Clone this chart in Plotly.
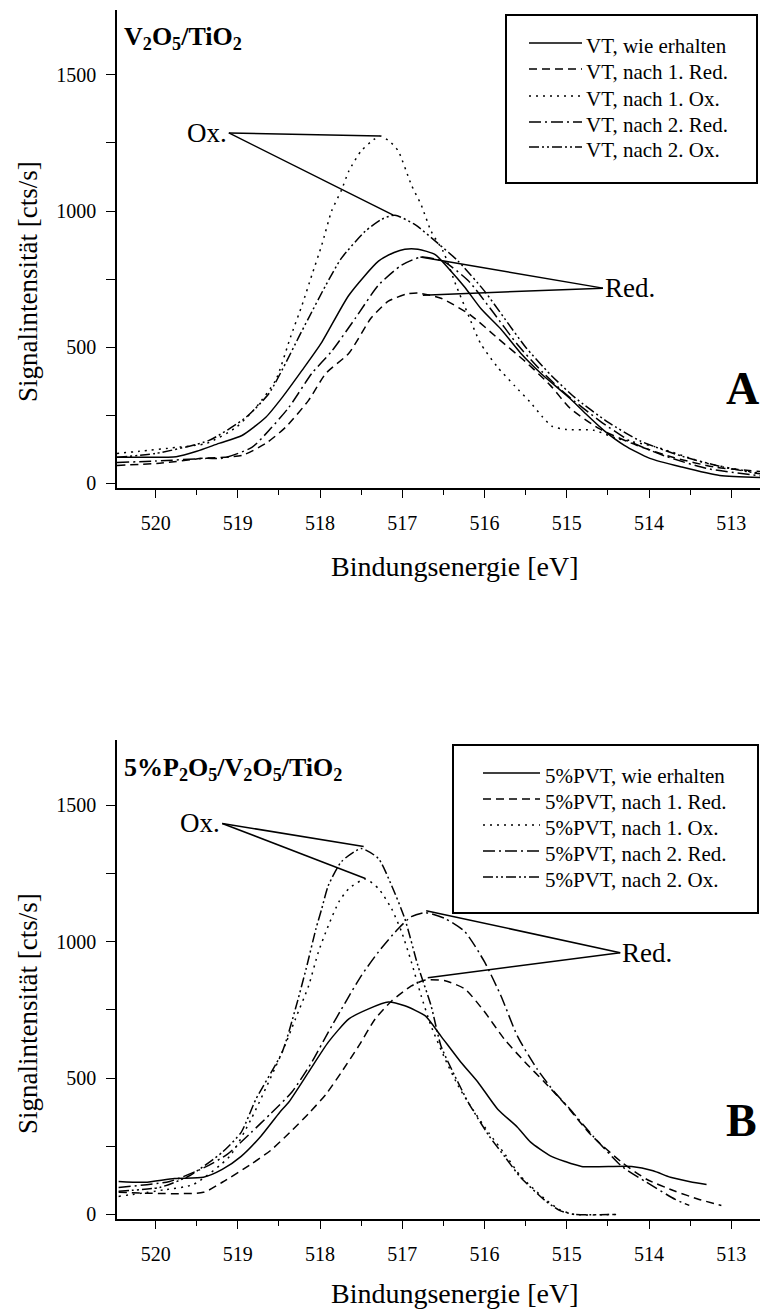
import plotly.graph_objects as go

# ---------------- data: V 2p3/2 XPS signal, panel A (V2O5/TiO2) ----------------
a_labels = ["VT, wie erhalten", "VT, nach 1. Red.", "VT, nach 1. Ox.",
            "VT, nach 2. Red.", "VT, nach 2. Ox."]

a_e_wie = [520.47, 520.2, 519.75, 519.5, 519.23, 518.95, 518.66, 518.46, 518.22, 517.98,
           517.65, 517.29, 517.1, 516.97, 516.81, 516.6, 516.44, 516.24, 516.04, 515.8,
           515.56, 515.3, 514.96, 514.75, 514.55, 514.3, 513.99, 513.6, 513.14, 512.65]
a_i_wie = [96, 96, 98, 118, 147, 176, 243, 316, 415, 518,
           691, 816, 848, 860, 860, 840, 790, 720, 640, 566,
           478, 400, 312, 250, 195, 140, 92, 60, 29, 22]

a_e_red1 = [520.47, 519.95, 519.43, 518.95, 518.66, 518.42, 518.14, 517.93, 517.65, 517.38,
            517.17, 516.95, 516.81, 516.53, 516.17, 515.84, 515.51, 515.2, 514.96, 514.6,
            514.15, 513.7, 513.2, 512.65]
a_i_red1 = [66, 74, 92, 103, 147, 206, 305, 404, 478, 607,
            669, 695, 699, 680, 618, 533, 449, 360, 276, 200,
            140, 95, 60, 44]

a_e_ox1 = [520.47, 520.2, 519.75, 519.38, 519.02, 518.78, 518.54, 518.36, 518.22, 518.1,
           517.98, 517.86, 517.74, 517.65, 517.5, 517.35, 517.27, 517.15, 517.05, 516.89,
           516.77, 516.65, 516.5, 516.35, 516.2, 516.05, 515.85, 515.63, 515.45, 515.3,
           515.18, 515.0, 514.67, 514.39, 513.94, 513.3, 512.65]
a_i_ox1 = [110, 118, 132, 147, 206, 279, 379, 537, 654, 765,
           875, 1000, 1077, 1147, 1221, 1262, 1276, 1255, 1221, 1096,
           1022, 926, 850, 730, 620, 515, 430, 357, 300, 246,
           210, 198, 195, 165, 136, 74, 37]

a_e_red2 = [520.47, 520.0, 519.38, 519.19, 518.83, 518.62, 518.38, 518.1, 517.86, 517.57,
            517.29, 517.01, 516.77, 516.5, 516.2, 515.9, 515.6, 515.3, 515.0, 514.6,
            514.2, 513.8, 513.3, 512.65]
a_i_red2 = [77, 82, 92, 92, 132, 195, 279, 404, 485, 607,
            728, 801, 831, 815, 745, 630, 510, 410, 325, 230,
            150, 100, 55, 28]

a_e_ox2 = [520.47, 520.0, 519.35, 518.9, 518.62, 518.42, 518.26, 518.14, 517.93, 517.74,
           517.45, 517.25, 517.09, 516.84, 516.57, 516.32, 516.0, 515.76, 515.5, 515.2,
           514.9, 514.5, 514.1, 513.6, 513.1, 512.65]
a_i_ox2 = [96, 110, 158, 243, 331, 441, 537, 607, 728, 827,
           926, 970, 985, 949, 882, 816, 706, 607, 500, 400,
           315, 225, 155, 100, 60, 35]

# ---------------- data: panel B (5%P2O5/V2O5/TiO2) ----------------
b_labels = ["5%PVT, wie erhalten", "5%PVT, nach 1. Red.", "5%PVT, nach 1. Ox.",
            "5%PVT, nach 2. Red.", "5%PVT, nach 2. Ox."]

b_e_wie = [520.45, 520.13, 519.77, 519.42, 519.19, 518.96, 518.72, 518.49, 518.38, 518.14,
           517.9, 517.65, 517.41, 517.17, 516.97, 516.72, 516.53, 516.29, 516.08, 515.84,
           515.6, 515.44, 515.2, 515.03, 514.82, 514.21, 513.95, 513.74, 513.5, 513.3]
b_i_wie = [121, 118, 132, 136, 165, 213, 287, 375, 412, 522,
           632, 717, 754, 779, 765, 728, 654, 559, 485, 386,
           320, 265, 215, 195, 176, 176, 160, 136, 120, 110]

b_e_red1 = [520.45, 519.42, 519.19, 518.84, 518.6, 518.37, 518.14, 517.93, 517.74, 517.53,
            517.33, 517.13, 516.89, 516.72, 516.48, 516.24, 516.0, 515.76, 515.51, 515.27,
            515.0, 514.7, 514.33, 514.03, 513.68, 513.39, 513.12]
b_i_red1 = [81, 81, 118, 184, 235, 300, 370, 440, 522, 618,
            717, 783, 838, 860, 857, 827, 743, 643, 559, 485,
            397, 290, 191, 129, 85, 55, 33]

b_e_ox1 = [520.45, 519.9, 519.54, 519.1, 518.84, 518.46, 518.3, 518.14, 518.02, 517.9,
           517.77, 517.65, 517.45, 517.29, 517.13, 517.01, 516.89, 516.77, 516.65, 516.48,
           516.32, 516.17, 515.95, 515.75, 515.56, 515.26, 515.09, 514.91, 514.4]
b_i_ox1 = [66, 90, 110, 213, 349, 596, 717, 838, 963, 1059,
           1147, 1195, 1230, 1195, 1121, 1037, 926, 801, 691, 570,
           471, 397, 300, 220, 140, 55, 18, 0, 0]

b_e_red2 = [520.45, 519.83, 519.42, 519.13, 518.84, 518.6, 518.34, 518.1, 517.9, 517.69,
            517.5, 517.29, 517.05, 516.89, 516.72, 516.48, 516.24, 516.0, 515.8, 515.6,
            515.36, 515.15, 514.96, 514.68, 514.33, 514.03, 513.68, 513.51]
b_i_red2 = [99, 121, 170, 220, 300, 370, 450, 559, 669, 779,
            875, 963, 1048, 1092, 1107, 1085, 1037, 926, 801, 654,
            533, 449, 386, 287, 176, 118, 55, 33]

b_e_ox2 = [520.45, 519.95, 519.6, 519.19, 518.96, 518.78, 518.46, 518.3, 518.17, 518.05,
           517.98, 517.9, 517.74, 517.5, 517.29, 517.13, 516.97, 516.81, 516.65, 516.53,
           516.36, 516.2, 515.95, 515.75, 515.56, 515.26, 515.09, 514.91, 514.4]
b_i_ox2 = [85, 99, 140, 228, 301, 423, 596, 754, 901, 1048,
           1121, 1206, 1294, 1342, 1305, 1206, 1085, 912, 765, 618,
           507, 412, 290, 210, 135, 50, 15, 0, 0]

# callout labels: text anchor point and the peaks they point at (eV, cts/s)
a_ox_label = (519.11, 1287)
a_ox_peaks = [(517.27, 1276), (517.11, 985)]
a_red_label = (514.56, 717)
a_red_peaks = [(516.78, 831), (516.75, 691)]
b_ox_label = (519.19, 1434)
b_ox_peaks = [(517.47, 1349), (517.45, 1232)]
b_red_label = (514.35, 960)
b_red_peaks = [(516.71, 1114), (516.69, 868)]

x_ticks = [520, 519, 518, 517, 516, 515, 514, 513]
y_ticks = [0, 250, 500, 750, 1000, 1250, 1500]
y_ticktext = ["0", "", "500", "", "1000", "", "1500"]

# ---------------- styling ----------------
W, H = 760, 1309
L = 117
FONT = "Liberation Serif"
DASHES = ["solid", "8px,5px", "2px,5px", "12px,4px,2px,4px", "10px,3px,2px,3px,2px,3px"]
LW = 1.5


def px_x(p):
    return (p - L) / (W - L)


def px_y(p):
    return 1 - p / H


fig = go.Figure()

panels = [
    ("x", "y", [(a_e_wie, a_i_wie), (a_e_red1, a_i_red1), (a_e_ox1, a_i_ox1),
                (a_e_red2, a_i_red2), (a_e_ox2, a_i_ox2)], a_labels),
    ("x2", "y2", [(b_e_wie, b_i_wie), (b_e_red1, b_i_red1), (b_e_ox1, b_i_ox1),
                  (b_e_red2, b_i_red2), (b_e_ox2, b_i_ox2)], b_labels),
]
for xa, ya, series, labels in panels:
    for (e, i), name, dash in zip(series, labels, DASHES):
        fig.add_trace(go.Scatter(x=e, y=i, mode="lines", name=name, xaxis=xa, yaxis=ya,
                                 line=dict(color="black", width=LW, dash=dash,
                                           shape="spline", smoothing=0.6),
                                 showlegend=False, hoverinfo="skip"))

x_range = [520.47, 512.65]
y_range = [-15, 1740]
dom_a = [px_y(487.5), px_y(9.5)]
dom_b = [px_y(1218.5), px_y(740)]


def bottom_axis(anchor):
    return dict(range=x_range, anchor=anchor, domain=[0, 1], showline=True, linecolor="black",
                linewidth=1.6, ticks="outside", ticklen=9, tickwidth=1.4, tickcolor="black",
                tickvals=x_ticks, tickfont=dict(family=FONT, size=20, color="black"),
                ticklabelstandoff=8, showgrid=False, zeroline=False,
                minor=dict(dtick=0.5, tick0=0, ticks="outside", ticklen=6, tickwidth=1.4,
                           tickcolor="black", showgrid=False))


def top_axis(over, anchor):
    return dict(range=x_range, overlaying=over, anchor=anchor, side="top", showline=True,
                linecolor="black", linewidth=1.6, ticks="outside", ticklen=4, tickwidth=1.2,
                tickcolor="black", tickvals=x_ticks, showticklabels=False, showgrid=False,
                zeroline=False,
                minor=dict(dtick=0.5, tick0=0, ticks="outside", ticklen=4, tickwidth=1.2,
                           tickcolor="black", showgrid=False))


def left_axis(anchor, dom):
    return dict(range=y_range, anchor=anchor, domain=dom, showline=True, linecolor="black",
                linewidth=1.6, ticks="outside", ticklen=9, tickwidth=1.4, tickcolor="black",
                tickvals=y_ticks, ticktext=y_ticktext,
                tickfont=dict(family=FONT, size=20, color="black"), ticklabelstandoff=6,
                showgrid=False, zeroline=False)


fig.update_layout(
    width=W, height=H,
    margin=dict(l=L, r=0, t=0, b=0, autoexpand=False),
    paper_bgcolor="white", plot_bgcolor="white",
    font=dict(family=FONT, color="black", size=20),
    showlegend=False,
    xaxis=bottom_axis("y"), yaxis=left_axis("x", dom_a),
    xaxis2=bottom_axis("y2"), yaxis2=left_axis("x2", dom_b),
    xaxis3=top_axis("x", "y"), xaxis4=top_axis("x2", "y2"),
)

shapes = []
annotations = []

# callout lines and labels
for xr, yr, ox_lab, ox_pk, red_lab, red_pk in [
        ("x", "y", a_ox_label, a_ox_peaks, a_red_label, a_red_peaks),
        ("x2", "y2", b_ox_label, b_ox_peaks, b_red_label, b_red_peaks)]:
    for lab, peaks in [(ox_lab, ox_pk), (red_lab, red_pk)]:
        for px_, py_ in peaks:
            shapes.append(dict(type="line", xref=xr, yref=yr, x0=lab[0], y0=lab[1],
                               x1=px_, y1=py_, line=dict(color="black", width=1.5)))
    annotations.append(dict(xref=xr, yref=yr, x=ox_lab[0], y=ox_lab[1], text="Ox.",
                            showarrow=False, xanchor="right", yanchor="middle",
                            font=dict(family=FONT, size=27, color="black")))
    annotations.append(dict(xref=xr, yref=yr, x=red_lab[0], y=red_lab[1], text="Red.",
                            showarrow=False, xanchor="left", yanchor="middle",
                            font=dict(family=FONT, size=27, color="black")))

# hand-drawn legend boxes
legend_boxes = [
    (a_labels, (506, 15, 757, 183), [43, 69, 96, 122, 147], (529, 582), 584),
    (b_labels, (453, 745, 758, 913), [773, 799, 825, 851, 877], (483, 540), 543),
]
for labels, (bx0, by0, bx1, by1), rows, (lx0, lx1), tx in legend_boxes:
    shapes.append(dict(type="rect", xref="paper", yref="paper",
                       x0=px_x(bx0), y0=px_y(by1), x1=px_x(bx1), y1=px_y(by0),
                       line=dict(color="black", width=2), fillcolor="white", layer="above"))
    for name, dash, ry in zip(labels, DASHES, rows):
        shapes.append(dict(type="line", xref="paper", yref="paper",
                           x0=px_x(lx0), x1=px_x(lx1), y0=px_y(ry), y1=px_y(ry),
                           line=dict(color="black", width=LW, dash=dash), layer="above"))
        annotations.append(dict(xref="paper", yref="paper", x=px_x(tx), y=px_y(ry + 3),
                                text=name, showarrow=False, xanchor="left",
                                yanchor="middle",
                                font=dict(family=FONT, size=21, color="black")))

# panel titles, panel letters and axis titles
for title, tx, ty in [("<b>V<sub>2</sub>O<sub>5</sub>/TiO<sub>2</sub></b>", 122, 38),
                      ("<b>5%P<sub>2</sub>O<sub>5</sub>/V<sub>2</sub>O<sub>5</sub>/TiO<sub>2</sub></b>",
                       122, 769)]:
    annotations.append(dict(xref="paper", yref="paper", x=px_x(tx), y=px_y(ty), text=title,
                            showarrow=False, xanchor="left", yanchor="middle",
                            font=dict(family=FONT, size=26, color="black")))
for letter, ly in [("A", 388), ("B", 1120)]:
    annotations.append(dict(xref="paper", yref="paper", x=px_x(724), y=px_y(ly),
                            text="<b>" + letter + "</b>", showarrow=False, xanchor="left",
                            yanchor="middle", font=dict(family=FONT, size=46, color="black")))
for ty in [282, 1014]:
    annotations.append(dict(xref="paper", yref="paper", x=px_x(28), y=px_y(ty),
                            text="Signalintensität [cts/s]", textangle=-90, showarrow=False,
                            xanchor="center", yanchor="middle",
                            font=dict(family=FONT, size=27, color="black")))
for ty in [567, 1293]:
    annotations.append(dict(xref="paper", yref="paper", x=px_x(455), y=px_y(ty),
                            text="Bindungsenergie [eV]", showarrow=False,
                            xanchor="center", yanchor="middle",
                            font=dict(family=FONT, size=28, color="black")))

fig.update_layout(shapes=shapes, annotations=annotations)
fig.write_html("out.html")
